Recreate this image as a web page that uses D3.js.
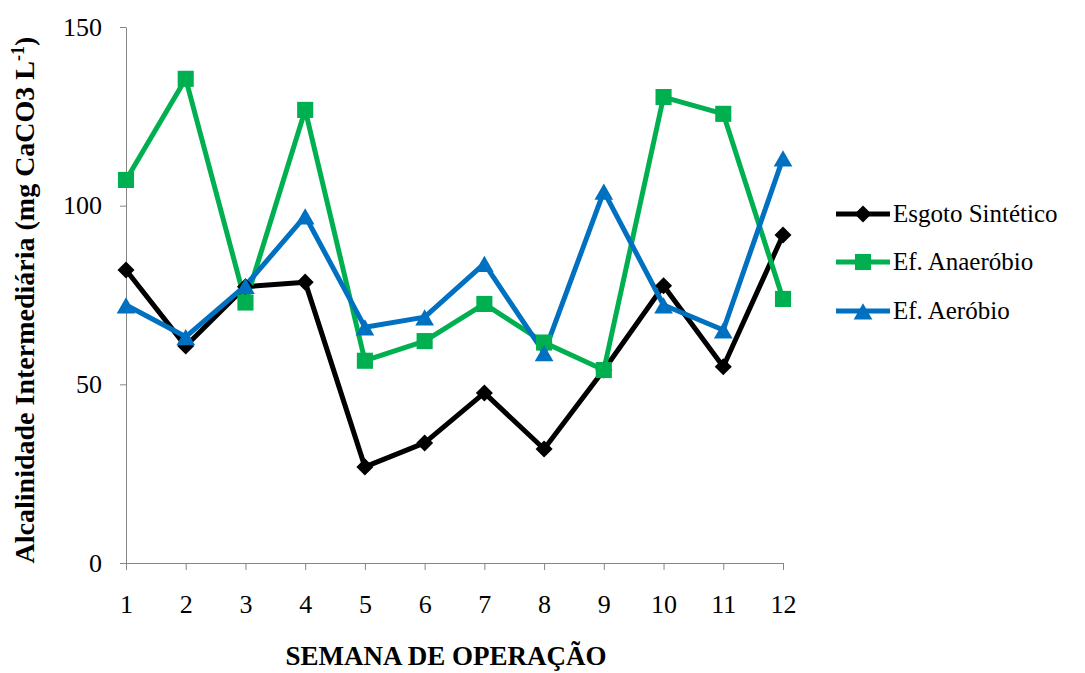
<!DOCTYPE html>
<html>
<head>
<meta charset="utf-8">
<script src="https://cdn.jsdelivr.net/npm/d3@7"></script>
<style>
  html, body { margin: 0; padding: 0; background: #fff; }
  svg { display: block; }
</style>
</head>
<body>
<svg id="chart" width="1085" height="673"></svg>
<script>
// Weekly intermediate alkalinity (mg CaCO3 L-1)
const weeks = [1, 2, 3, 4, 5, 6, 7, 8, 9, 10, 11, 12];
const esgotoSintetico = [82.0, 60.7, 77.3, 78.6, 26.9, 33.6, 47.6, 31.9, 54.0, 77.6, 54.9, 91.8];
const efAnaerobio     = [107.2, 135.5, 72.9, 126.8, 56.6, 62.1, 72.5, 61.7, 54.0, 130.4, 125.7, 73.9];
const efAerobio       = [72.2, 63.3, 77.6, 97.1, 66.0, 68.8, 83.8, 58.8, 104.0, 72.2, 65.2, 113.3];
const yTicks = [0, 50, 100, 150];
const seriesNames = ["Esgoto Sintético", "Ef. Anaeróbio", "Ef. Aeróbio"];

const serif = "'Liberation Serif', 'Times New Roman', Tinos, 'DejaVu Serif', serif";

const series = [
  { name: seriesNames[0], values: esgotoSintetico, color: "#000000", symbol: d3.symbolDiamond2,  size: 185, dy: 0 },
  { name: seriesNames[1], values: efAnaerobio,     color: "#00B050", symbol: d3.symbolSquare2,   size: 330, dy: 0 },
  { name: seriesNames[2], values: efAerobio,       color: "#0070C0", symbol: d3.symbolTriangle2, size: 250, dy: 3 }
];

const svg = d3.select("#chart");
const axisColor = "#868686";

const x = d3.scaleLinear().domain([1, 12]).range([126, 783]);
const y = d3.scaleLinear().domain([0, 150]).range([563, 27]);

// Y axis
const yAxis = svg.append("g")
  .attr("transform", `translate(${x(1)},0)`)
  .call(d3.axisLeft(y).tickValues(yTicks).tickSize(6).tickSizeOuter(0).tickPadding(18));
yAxis.attr("font-family", null).attr("font-size", null);
yAxis.select(".domain").attr("stroke", axisColor);
yAxis.selectAll(".tick line").attr("stroke", axisColor);
yAxis.selectAll(".tick text")
  .style("font-family", serif)
  .style("font-weight", "normal")
  .style("font-size", "26px").attr("fill", "#000");

// X axis
const xAxis = svg.append("g")
  .attr("transform", `translate(0,${y(0)})`)
  .call(d3.axisBottom(x).tickValues(weeks).tickFormat(d3.format("d")).tickSize(7).tickSizeOuter(0).tickPadding(25));
xAxis.attr("font-family", null).attr("font-size", null);
xAxis.select(".domain").attr("stroke", axisColor);
xAxis.selectAll(".tick line").attr("stroke", axisColor);
xAxis.selectAll(".tick text")
  .style("font-family", serif)
  .style("font-weight", "normal")
  .style("font-size", "26px").attr("fill", "#000");

// Lines and markers
const line = d3.line().x((d, i) => x(weeks[i])).y(d => y(d));

series.forEach(s => {
  svg.append("path")
    .datum(s.values)
    .attr("fill", "none")
    .attr("stroke", s.color)
    .attr("stroke-width", 5)
    .attr("stroke-linejoin", "round")
    .attr("d", line);
});

series.forEach(s => {
  const sym = d3.symbol().type(s.symbol).size(s.size);
  svg.append("g").selectAll("path")
    .data(s.values)
    .join("path")
    .attr("transform", (d, i) => `translate(${x(weeks[i])},${y(d) + s.dy})`)
    .attr("d", sym())
    .attr("fill", s.color);
});

// Axis titles
svg.append("text")
  .attr("transform", `translate(34,300) rotate(-90)`)
  .attr("text-anchor", "middle")
  .style("font-family", serif)
  .style("font-size", "28px")
  .style("font-weight", "bold")
  .call(t => {
    t.append("tspan").text("Alcalinidade Intermediária (mg CaCO3 L");
    t.append("tspan").attr("baseline-shift", "super").style("font-size", "18px").text("-1");
    t.append("tspan").text(")");
  });

svg.append("text")
  .attr("x", 446)
  .attr("y", 665)
  .attr("text-anchor", "middle")
  .style("font-family", serif)
  .style("font-size", "27px")
  .style("font-weight", "bold")
  .text("SEMANA DE OPERAÇÃO");

// Legend
const legend = svg.append("g");
const legendRows = [214, 262, 311];
series.forEach((s, i) => {
  const g = legend.append("g").attr("transform", `translate(836,${legendRows[i]})`);
  g.append("line").attr("x1", 0).attr("x2", 54).attr("y1", 0).attr("y2", 0)
    .attr("stroke", s.color).attr("stroke-width", 5);
  g.append("path")
    .attr("transform", `translate(27,${s.dy})`)
    .attr("d", d3.symbol().type(s.symbol).size(s.size)())
    .attr("fill", s.color);
  g.append("text").attr("x", 57).attr("y", 8)
    .style("font-family", serif)
    .style("font-weight", "normal")
    .style("font-size", "25px").attr("fill", "#000")
    .text(s.name);
});
</script>
</body>
</html>
